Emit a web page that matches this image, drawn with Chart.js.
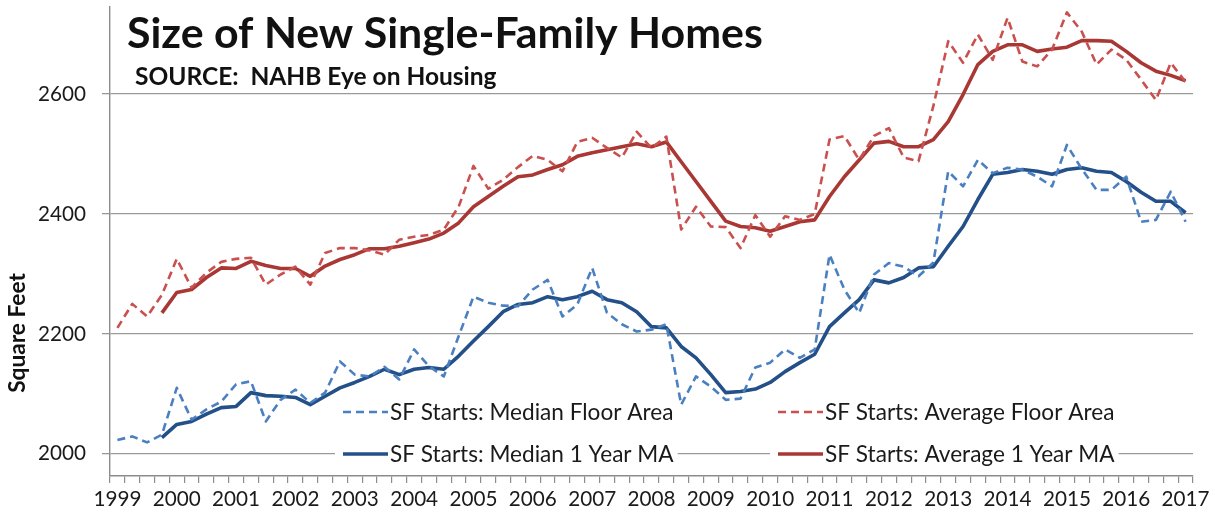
<!DOCTYPE html>
<html>
<head>
<meta charset="utf-8">
<script src="https://cdn.jsdelivr.net/npm/chart.js@4"></script>
<style>
  html, body { margin: 0; padding: 0; background: #fff; }
  #wrap { width: 1215px; height: 512px; }
</style>
</head>
<body>
<div id="wrap"><canvas id="myChart" width="1215" height="512"></canvas></div>
<script>
// tick labels (one per year, data is quarterly)
const yearLabels = ['1999','2000','2001','2002','2003','2004','2005','2006','2007','2008',
                    '2009','2010','2011','2012','2013','2014','2015','2016','2017'];

// SF starts, median floor area (sq ft), 1999 Q1 .. 2017 Q1
const medianFloorArea = [2023, 2029, 2019, 2032, 2110, 2057, 2074, 2087, 2116, 2121, 2054, 2090,
  2107, 2085, 2102, 2154, 2132, 2129, 2145, 2124, 2174, 2146, 2129, 2196, 2262, 2252, 2247, 2246,
  2274, 2290, 2229, 2249, 2310, 2235, 2216, 2204, 2207, 2216, 2082, 2129, 2112, 2090, 2092, 2144,
  2152, 2174, 2160, 2174, 2332, 2274, 2235, 2299, 2318, 2312, 2296, 2319, 2471, 2446, 2490, 2468,
  2477, 2474, 2462, 2446, 2515, 2475, 2440, 2440, 2462, 2387, 2390, 2437, 2387];

// SF starts, average floor area
const averageFloorArea = [2210, 2250, 2229, 2265, 2325, 2277, 2302, 2320, 2325, 2327, 2282, 2299,
  2312, 2282, 2335, 2343, 2343, 2339, 2332, 2357, 2362, 2365, 2374, 2412, 2480, 2442, 2457, 2478,
  2497, 2490, 2471, 2520, 2527, 2510, 2494, 2537, 2510, 2529, 2374, 2412, 2379, 2378, 2343, 2398,
  2362, 2396, 2390, 2400, 2524, 2530, 2490, 2530, 2543, 2494, 2488, 2580, 2688, 2652, 2699, 2657,
  2727, 2654, 2646, 2674, 2736, 2704, 2649, 2674, 2657, 2624, 2590, 2652, 2620];

// 1 year moving averages (start at 1999 Q4)
const medianMA = [null, null, null, 2027, 2049, 2054, 2066, 2077, 2079, 2102, 2097, 2096,
  2094, 2082, 2096, 2110, 2119, 2129, 2141, 2132, 2141, 2144, 2141, 2163, 2188, 2212, 2237, 2249,
  2252, 2262, 2257, 2262, 2271, 2257, 2252, 2237, 2212, 2210, 2179, 2160, 2132, 2102, 2104, 2108,
  2119, 2137, 2152, 2166, 2212, 2235, 2257, 2290, 2285, 2294, 2310, 2312, 2346, 2379, 2424, 2466,
  2469, 2474, 2471, 2466, 2474, 2477, 2471, 2469, 2454, 2436, 2421, 2421, 2402];

const averageMA = [null, null, null, 2235, 2269, 2274, 2294, 2310, 2309, 2321, 2314, 2309,
  2309, 2296, 2313, 2324, 2332, 2342, 2342, 2346, 2352, 2358, 2368, 2385, 2412, 2429, 2446, 2462,
  2465, 2474, 2482, 2496, 2502, 2507, 2512, 2517, 2512, 2520, 2487, 2454, 2421, 2388, 2379, 2377,
  2371, 2379, 2387, 2390, 2429, 2462, 2490, 2518, 2521, 2512, 2512, 2524, 2554, 2599, 2649, 2671,
  2682, 2682, 2671, 2675, 2678, 2689, 2689, 2688, 2671, 2652, 2638, 2631, 2622];

const yTicks = [2000, 2200, 2400, 2600];

// quarterly categories built from the years, ending at 2017 Q1
const quarters = [];
yearLabels.forEach(y => {
    for (let q = 1; q <= 4; q++) {
        if (y === '2017' && q > 1) break;
        quarters.push(y + ' Q' + q);
    }
});

const FONT = 'Lato, "Open Sans", sans-serif';

// scale a font so a text gets a given width
function fitSize(ctx, text, weight, target) {
    ctx.font = weight + ' 100px ' + FONT;
    return 100 * target / ctx.measureText(text).width;
}

const measureCtx = document.createElement('canvas').getContext('2d');
const tickSize = fitSize(measureCtx, '2600', 'normal', 48);

const whiteBg = {
    id: 'whiteBg',
    beforeDraw(chart) {
        const ctx = chart.ctx;
        ctx.save();
        ctx.fillStyle = '#fff';
        ctx.fillRect(0, 0, chart.width, chart.height);
        ctx.restore();
    }
};

// legend sits inside the plot, entries have their own white box
const legendSlots = [
    {ds: 0, x: 343, y: 412},
    {ds: 1, x: 778, y: 412},
    {ds: 2, x: 343, y: 454},
    {ds: 3, x: 778, y: 454}
];

const insideLegend = {
    id: 'insideLegend',
    beforeDatasetsDraw(chart) {
        const ctx = chart.ctx;
        const size = fitSize(ctx, 'SF Starts: Median Floor Area', 'normal', 283);
        ctx.save();
        ctx.font = size.toFixed(1) + 'px ' + FONT;
        legendSlots.forEach(s => {
            const ds = chart.data.datasets[s.ds];
            const w = ctx.measureText(ds.label).width;
            ctx.fillStyle = '#fff';
            ctx.fillRect(s.x - 8, s.y - 15, 47 + w + 12, 30);
            ctx.strokeStyle = ds.borderColor;
            ctx.lineWidth = ds.borderWidth;
            ctx.setLineDash(ds.borderDash || []);
            ctx.beginPath();
            ctx.moveTo(s.x, s.y);
            ctx.lineTo(s.x + 45, s.y);
            ctx.stroke();
            ctx.setLineDash([]);
            ctx.fillStyle = '#1a1a1a';
            ctx.textBaseline = 'middle';
            ctx.fillText(ds.label, s.x + 47, s.y + 1);
        });
        ctx.restore();
    }
};

const titles = {
    id: 'titles',
    afterDraw(chart) {
        const ctx = chart.ctx;
        ctx.save();
        ctx.fillStyle = '#111';
        ctx.textBaseline = 'alphabetic';
        let t = 'Size of New Single-Family Homes';
        ctx.font = 'bold ' + fitSize(ctx, t, 'bold', 636).toFixed(1) + 'px ' + FONT;
        ctx.fillText(t, 127, 48);
        t = 'SOURCE:  NAHB Eye on Housing';
        ctx.font = 'bold ' + fitSize(ctx, t, 'bold', 362).toFixed(1) + 'px ' + FONT;
        ctx.fillText(t, 135, 85);
        // y axis title
        t = 'Square Feet';
        ctx.font = 'bold ' + fitSize(ctx, t, 'bold', 120).toFixed(1) + 'px ' + FONT;
        ctx.translate(25, 333);
        ctx.rotate(-Math.PI / 2);
        ctx.textAlign = 'center';
        ctx.fillText(t, 0, 0);
        ctx.restore();
    }
};

const ctx = document.getElementById('myChart').getContext('2d');
new Chart(ctx, {
    type: 'line',
    data: {
        labels: quarters,
        datasets: [
            {label: 'SF Starts: Median Floor Area', data: medianFloorArea,
             borderColor: '#4a7fc0', borderWidth: 2.6, borderDash: [8, 5]},
            {label: 'SF Starts: Average Floor Area', data: averageFloorArea,
             borderColor: '#c9504e', borderWidth: 2.6, borderDash: [8, 5]},
            {label: 'SF Starts: Median 1 Year MA', data: medianMA,
             borderColor: '#235089', borderWidth: 3.6},
            {label: 'SF Starts: Average 1 Year MA', data: averageMA,
             borderColor: '#a93834', borderWidth: 3.6}
        ]
    },
    options: {
        responsive: false,
        animation: false,
        devicePixelRatio: 1,
        layout: {padding: {top: 7, right: 22, left: 0, bottom: 0}},
        elements: {
            point: {radius: 0},
            line: {tension: 0, borderJoinStyle: 'round', borderCapStyle: 'butt'}
        },
        plugins: {
            legend: {display: false},
            tooltip: {enabled: false}
        },
        scales: {
            x: {
                type: 'category',
                offset: true,
                afterFit: s => { s.height = 36; s.paddingLeft = 0; s.paddingRight = 0; },
                grid: {
                    offset: true, drawOnChartArea: false, drawTicks: true,
                    tickLength: 7, color: '#8c8c8c', lineWidth: 1.2
                },
                border: {display: true, color: '#8c8c8c', width: 1.4},
                ticks: {
                    autoSkip: false, maxRotation: 0, minRotation: 0, padding: 4,
                    color: '#1a1a1a', font: {family: FONT, size: tickSize},
                    callback: (v, i) => quarters[i].endsWith('Q1') ? quarters[i].slice(0, 4) : ''
                }
            },
            y: {
                min: 1963,
                max: 2745,
                afterFit: s => { s.width = 110; s.paddingTop = 0; s.paddingBottom = 0; },
                afterBuildTicks: s => { s.ticks = yTicks.map(v => ({value: v})); },
                grid: {color: '#9a9a9a', lineWidth: 1.3, tickLength: 8, drawTicks: true},
                border: {display: true, color: '#8c8c8c', width: 1.4},
                ticks: {
                    padding: 16, color: '#1a1a1a', font: {family: FONT, size: tickSize},
                    callback: v => String(v)
                }
            }
        }
    },
    plugins: [whiteBg, insideLegend, titles]
});
</script>
</body>
</html>
